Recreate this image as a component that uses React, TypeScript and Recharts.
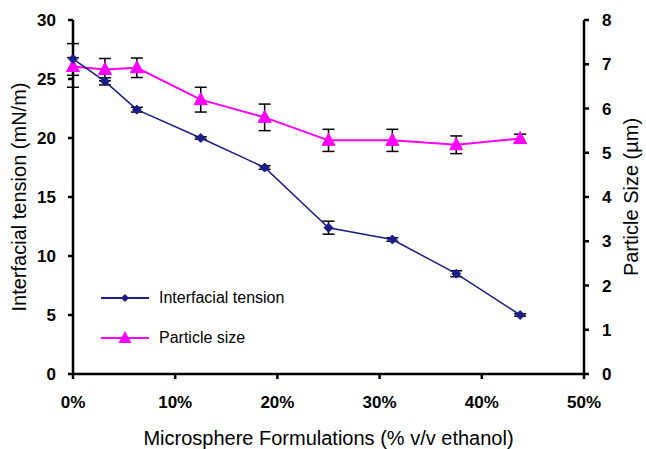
import React from 'react';
import { LineChart, Line, XAxis, YAxis, ErrorBar, Legend } from 'recharts';

const ethanolPct = [0, 3.125, 6.25, 12.5, 18.75, 25, 31.25, 37.5, 43.75];
const tension = [26.7, 24.8, 22.4, 20.0, 17.5, 12.4, 11.4, 8.5, 5.0];
const tensionErr: (number | number[])[] = [[2.4, 1.3], 0.3, 0.2, 0.1, 0.15, 0.55, 0.15, 0.25, 0.1];
const particleSize = [6.95, 6.88, 6.92, 6.2, 5.8, 5.28, 5.28, 5.18, 5.32];
const particleErr = [0.2, 0.25, 0.22, 0.28, 0.3, 0.25, 0.25, 0.2, 0.1];
const xTicks = [0, 10, 20, 30, 40, 50];
const leftTicks = [0, 5, 10, 15, 20, 25, 30];
const rightTicks = [0, 1, 2, 3, 4, 5, 6, 7, 8];

const data = ethanolPct.map((x, i) => ({
  x,
  tension: tension[i],
  tensionErr: tensionErr[i],
  size: particleSize[i],
  sizeErr: particleErr[i],
}));

const NAVY = '#1c1c8a';
const MAGENTA = '#ff00ff';
const FONT = '"Liberation Sans", Arial, sans-serif';

const Diamond = (props: any) => {
  const { cx, cy } = props;
  if (cx == null || cy == null) return null;
  const r = 4.5;
  return <polygon points={`${cx},${cy - r} ${cx + r},${cy} ${cx},${cy + r} ${cx - r},${cy}`} fill={NAVY} stroke={NAVY} />;
};

const Triangle = (props: any) => {
  const { cx, cy } = props;
  if (cx == null || cy == null) return null;
  return <polygon points={`${cx},${cy - 7} ${cx + 6.5},${cy + 5} ${cx - 6.5},${cy + 5}`} fill={MAGENTA} stroke={MAGENTA} />;
};

const legendItems = [
  { label: 'Interfacial tension', color: NAVY, kind: 'diamond' },
  { label: 'Particle size', color: MAGENTA, kind: 'triangle' },
];

const LegendContent = () => (
  <div style={{ fontFamily: FONT, fontSize: 16, color: '#000' }}>
    {legendItems.map((it) => (
      <div key={it.label} style={{ display: 'flex', alignItems: 'center', height: 40 }}>
        <svg width={54} height={16} style={{ marginRight: 4 }}>
          <line x1={0} y1={8} x2={48} y2={8} stroke={it.color} strokeWidth={2} />
          {it.kind === 'diamond' ? (
            <polygon points="24,4 28,8 24,12 20,8" fill={it.color} />
          ) : (
            <polygon points="24,1 30.5,13 17.5,13" fill={it.color} />
          )}
        </svg>
        <span>{it.label}</span>
      </div>
    ))}
  </div>
);

const tickStyle = { fontFamily: FONT, fontSize: 17, fontWeight: 700, fill: '#000' };
const axisLine = { stroke: '#000', strokeWidth: 2.5 };
const titleStyle = { fontFamily: FONT, fontSize: 20, fill: '#000', textAnchor: 'middle' as const };

export default function App() {
  return (
    <div style={{ position: 'absolute', left: 0, top: 0, background: '#fff' }}>
      <LineChart width={646} height={449} data={data} margin={{ top: 20, right: 0, bottom: 0, left: 0 }}>
        <XAxis
          dataKey="x"
          type="number"
          domain={[0, 50]}
          ticks={xTicks}
          tickFormatter={(v: number) => `${v}%`}
          tick={tickStyle}
          axisLine={axisLine}
          tickLine={axisLine}
          tickSize={5}
          tickMargin={17}
          height={75}
          label={{
            value: 'Microsphere Formulations (% v/v ethanol)',
            position: 'center',
            dy: 26,
            style: titleStyle,
          }}
        />
        <YAxis
          yAxisId="left"
          domain={[0, 30]}
          ticks={leftTicks}
          tick={tickStyle}
          axisLine={axisLine}
          tickLine={axisLine}
          tickSize={5}
          tickMargin={12}
          width={73}
          label={{
            value: 'Interfacial tension (mN/m)',
            angle: -90,
            position: 'center',
            dx: -18,
            style: titleStyle,
          }}
        />
        <YAxis
          yAxisId="right"
          orientation="right"
          domain={[0, 8]}
          ticks={rightTicks}
          tick={tickStyle}
          axisLine={axisLine}
          tickLine={axisLine}
          tickSize={5}
          tickMargin={13}
          width={62}
          label={{
            value: 'Particle Size (µm)',
            angle: -90,
            position: 'center',
            dx: 16,
            style: titleStyle,
          }}
        />
        <Line
          yAxisId="right"
          dataKey="size"
          stroke={MAGENTA}
          strokeWidth={2}
          dot={<Triangle />}
          activeDot={false}
          isAnimationActive={false}
        >
          <ErrorBar dataKey="sizeErr" direction="y" width={6} stroke="#000" strokeWidth={1.5} />
        </Line>
        <Line
          yAxisId="left"
          dataKey="tension"
          stroke={NAVY}
          strokeWidth={1.5}
          dot={<Diamond />}
          activeDot={false}
          isAnimationActive={false}
        >
          <ErrorBar dataKey="tensionErr" direction="y" width={6} stroke="#000" strokeWidth={1.5} />
        </Line>
        <Legend
          layout="vertical"
          align="center"
          verticalAlign="middle"
          content={<LegendContent />}
          wrapperStyle={{ left: 101, top: 278, width: 'auto', height: 'auto' }}
        />
      </LineChart>
    </div>
  );
}
